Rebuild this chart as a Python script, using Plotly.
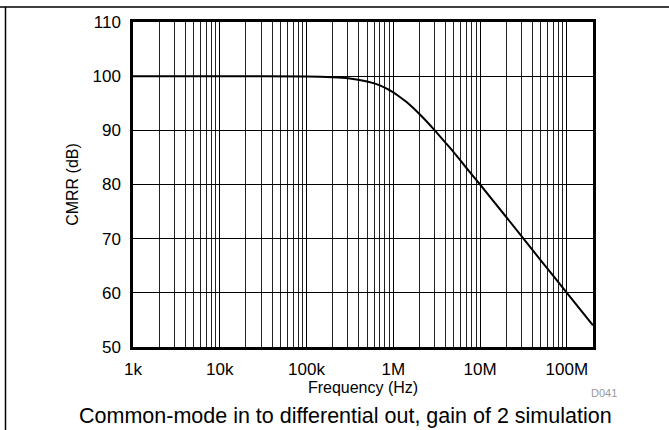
import plotly.graph_objects as go

# CMRR vs frequency, common-mode in to differential out, gain of 2
freq_hz = [1e3, 1e4, 1e5, 2e5, 3e5, 5e5, 7e5, 1e6, 1.2e6, 1.5e6, 2e6, 3e6,
           4e6, 5e6, 7e6, 1e7, 2e7, 5e7, 1e8, 2e8]
cmrr_db = [100.0, 100.0, 99.96, 99.8, 99.6, 99.0, 98.3, 97.0, 96.1, 94.9,
           93.0, 90.0, 87.7, 85.9, 83.0, 80.0, 74.0, 66.0, 60.0, 54.0]

x_tickvals = [1e3, 1e4, 1e5, 1e6, 1e7, 1e8]
x_ticktext = ["1k", "10k", "100k", "1M", "10M", "100M"]
y_tickvals = [50, 60, 70, 80, 90, 100, 110]

FONT = "Liberation Sans, Arial, sans-serif"
W, H = 669, 430
L, R, T, B = 133, 76, 22, 83

fig = go.Figure()
fig.add_trace(go.Scatter(
    x=freq_hz, y=cmrr_db, mode="lines",
    line=dict(color="black", width=2, shape="spline", smoothing=0.5),
    showlegend=False, hoverinfo="skip",
))

fig.update_xaxes(
    type="log", range=[3, 8.30103],
    tickvals=x_tickvals, ticktext=x_ticktext, ticks="",
    showgrid=True, gridcolor="black", gridwidth=1,
    minor=dict(dtick="D1", showgrid=True, gridcolor="#222", gridwidth=1, ticks=""),
    showline=True, linecolor="black", linewidth=2.5, mirror=True,
    tickfont=dict(family=FONT, size=17, color="black"),
    title=dict(text="Frequency (Hz)", font=dict(family=FONT, size=16, color="black"), standoff=1),
    zeroline=False, ticklabelstandoff=5,
)
fig.update_yaxes(
    range=[50, 110], tickvals=y_tickvals, ticks="",
    showgrid=True, gridcolor="black", gridwidth=1,
    showline=True, linecolor="black", linewidth=2.5, mirror=True,
    tickfont=dict(family=FONT, size=17, color="black"),
    title=dict(text="CMRR (dB)", font=dict(family=FONT, size=16, color="black"), standoff=10),
    zeroline=False, ticklabelstandoff=6,
)

pw, ph = W - L - R, H - T - B


def px_x(x):
    return (x - L) / pw


def px_y(y):
    return (H - B - y) / ph


fig.update_layout(
    width=W, height=H, margin=dict(l=L, r=R, t=T, b=B, pad=0),
    plot_bgcolor="white", paper_bgcolor="white",
    shapes=[
        dict(type="line", xref="paper", yref="paper",
             x0=px_x(-5), x1=px_x(W + 5), y0=px_y(7), y1=px_y(7),
             line=dict(color="black", width=1.5)),
        dict(type="line", xref="paper", yref="paper",
             x0=px_x(5.5), x1=px_x(5.5), y0=px_y(7), y1=px_y(H + 5),
             line=dict(color="black", width=1.5)),
    ],
    annotations=[
        dict(text="D041", xref="paper", yref="paper", x=px_x(604), y=px_y(393),
             showarrow=False, font=dict(family=FONT, size=11, color="#999999"),
             xanchor="center", yanchor="middle"),
        dict(text="Common-mode in to differential out, gain of 2 simulation",
             xref="paper", yref="paper", x=px_x(345), y=px_y(416),
             showarrow=False, font=dict(family=FONT, size=21.5, color="black"),
             xanchor="center", yanchor="middle"),
    ],
)

fig.write_html("out.html")
